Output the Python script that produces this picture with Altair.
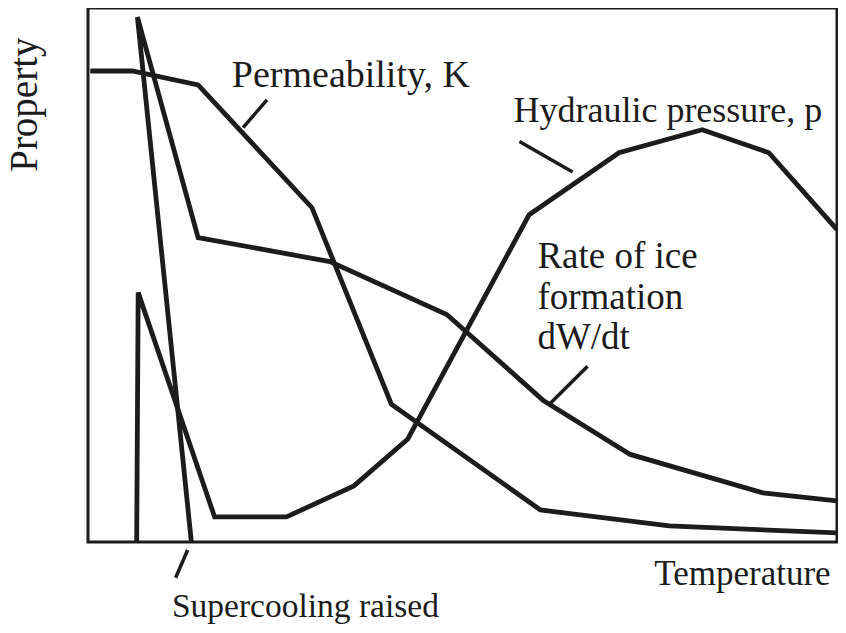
import altair as alt
import pandas as pd

# Curves (x: temperature axis 0-100, y: property 0-100)
perm_x = [0.3, 5.9, 14.7, 29.9, 40.5, 60.4, 77.6, 100.0]
perm_y = [88.2, 88.2, 85.6, 62.6, 25.8, 6.0, 3.0, 1.7]

pres_x = [6.5, 6.7, 16.9, 26.5, 35.5, 42.7, 58.9, 70.9, 82.0, 90.9, 100.0]
pres_y = [0.0, 46.7, 4.7, 4.7, 10.5, 19.3, 61.3, 72.9, 77.2, 72.9, 58.5]

rate_x = [13.8, 6.6, 14.7, 32.3, 47.9, 60.8, 72.4, 90.1, 100.0]
rate_y = [0.0, 98.3, 57.0, 52.5, 42.6, 26.5, 16.4, 9.2, 7.7]

# Label leader lines
lead_x = [23.9, 57.6, 66.7, 13.3]
lead_y = [82.8, 75.0, 32.9, -1.5]
lead_x2 = [20.7, 64.7, 61.6, 11.7]
lead_y2 = [77.6, 69.3, 25.8, -6.7]

# Labels
lab_text = ["Permeability, K", "Hydraulic pressure, p", "Rate of ice", "formation", "dW/dt",
            "Temperature", "Supercooling raised"]
lab_x = [19.2, 56.8, 60.0, 60.0, 60.0, 75.6, 11.2]
lab_y = [85.2, 78.7, 51.4, 43.6, 36.1, -8.0, -14.0]
lab_fs = [38, 36, 37, 37, 37, 35, 33.5]

rows = []
for name, xs_, ys_ in [("K", perm_x, perm_y), ("p", pres_x, pres_y), ("dW/dt", rate_x, rate_y)]:
    for i, (a, b) in enumerate(zip(xs_, ys_)):
        rows.append({"series": name, "i": i, "t": a, "v": b})
df = pd.DataFrame(rows)

INK = "#1c1c1c"
FONT = "Liberation Serif"
xs = alt.Scale(domain=[0, 100], nice=False, zero=False)
ys = alt.Scale(domain=[0, 100], nice=False, zero=False)

lines = alt.Chart(df).mark_line(color=INK, strokeWidth=4.8).encode(
    x=alt.X("t:Q", scale=xs, axis=None),
    y=alt.Y("v:Q", scale=ys, axis=None),
    detail="series:N",
    order="i:Q",
)

leads = alt.Chart(pd.DataFrame({"x": lead_x, "y": lead_y, "x2": lead_x2, "y2": lead_y2})).mark_rule(
    color=INK, strokeWidth=3.5
).encode(
    x=alt.X("x:Q", scale=xs, axis=None),
    y=alt.Y("y:Q", scale=ys, axis=None),
    x2="x2:Q",
    y2="y2:Q",
)

layers = [lines, leads]
for t, x, y, fs in zip(lab_text, lab_x, lab_y, lab_fs):
    layers.append(
        alt.Chart(pd.DataFrame({"text": [t], "x": [x], "y": [y]})).mark_text(
            font=FONT, fontSize=fs, align="left", baseline="alphabetic", color=INK
        ).encode(
            x=alt.X("x:Q", scale=xs, axis=None),
            y=alt.Y("y:Q", scale=ys, axis=None),
            text="text:N",
        )
    )

prop_lab = alt.Chart(pd.DataFrame({"text": ["Property"], "x": [-6.8], "y": [81.9]})).mark_text(
    font=FONT, fontSize=39, align="center", baseline="alphabetic", angle=270, color=INK
).encode(
    x=alt.X("x:Q", scale=xs, axis=None),
    y=alt.Y("y:Q", scale=ys, axis=None),
    text="text:N",
)
layers.append(prop_lab)

chart = alt.layer(*layers).properties(
    width=749,
    height=534,
    autosize=alt.AutoSizeParams(type="none"),
    padding={"left": 80, "top": 0, "right": 1, "bottom": 83},
    background="white",
).configure_view(stroke=INK, strokeWidth=3)

chart.save("out.html", embed_options={"renderer": "svg", "actions": False})
